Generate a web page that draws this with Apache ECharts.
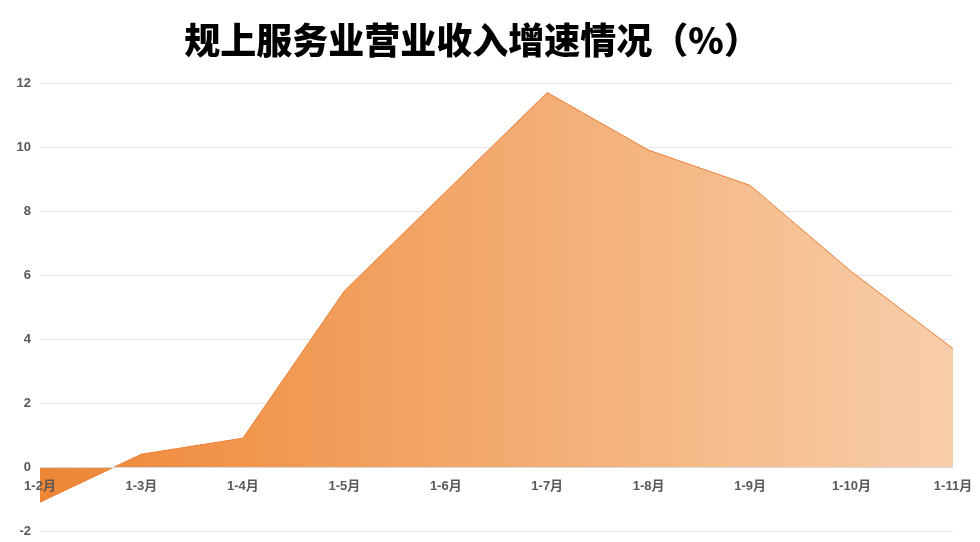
<!DOCTYPE html>
<html><head><meta charset="utf-8">
<script src="https://cdn.jsdelivr.net/npm/echarts@6/dist/echarts.min.js"></script>
<style>html,body{margin:0;padding:0;background:#fff}#c{width:980px;height:542px}</style>
</head><body><div id="c"></div>
<script>
const titleText = '规上服务业营业收入增速情况（%）';
const categories = ['1-2月','1-3月','1-4月','1-5月','1-6月','1-7月','1-8月','1-9月','1-10月','1-11月'];
const growth = [-1.1, 0.4, 0.9, 5.5, 8.6, 11.7, 9.9, 8.8, 6.1, 3.7];
const yTicks = {min: -2, max: 12, interval: 2};

const chart = echarts.init(document.getElementById('c'));
const font = '"Liberation Sans", Arial, "Noto Sans CJK SC", sans-serif';
chart.setOption({
  animation: false,
  title: {
    text: titleText, left: 467, top: 17, textAlign: 'center',
    textStyle: {fontSize: 36, fontWeight: 900, color: '#000', fontFamily: '"Noto Sans CJK SC", sans-serif'}
  },
  grid: {left: 40, right: 27, top: 83, bottom: 11, containLabel: false, outerBoundsMode: 'none'},
  xAxis: {
    type: 'category', data: categories, boundaryGap: false, z: 10,
    axisLine: {show: true, onZero: true, lineStyle: {color: '#d9d9d9'}},
    axisTick: {show: false},
    axisLabel: {color: '#595959', fontSize: 13, fontWeight: 'bold', fontFamily: font, margin: -51}
  },
  yAxis: {
    type: 'value', min: yTicks.min, max: yTicks.max, interval: yTicks.interval,
    axisLine: {show: false}, axisTick: {show: false},
    splitLine: {lineStyle: {color: '#e6e6e6'}},
    axisLabel: {color: '#595959', fontSize: 13, fontWeight: 'bold', fontFamily: font, margin: 9}
  },
  series: [{
    type: 'line', data: growth, symbol: 'none',
    lineStyle: {color: '#ED7D31', width: 1},
    areaStyle: {
      opacity: 1,
      color: new echarts.graphic.LinearGradient(0, 0, 1, 0, [
        {offset: 0, color: '#EE8634'},
        {offset: 1, color: '#F8CEAA'}
      ])
    }
  }]
});
</script></body></html>
